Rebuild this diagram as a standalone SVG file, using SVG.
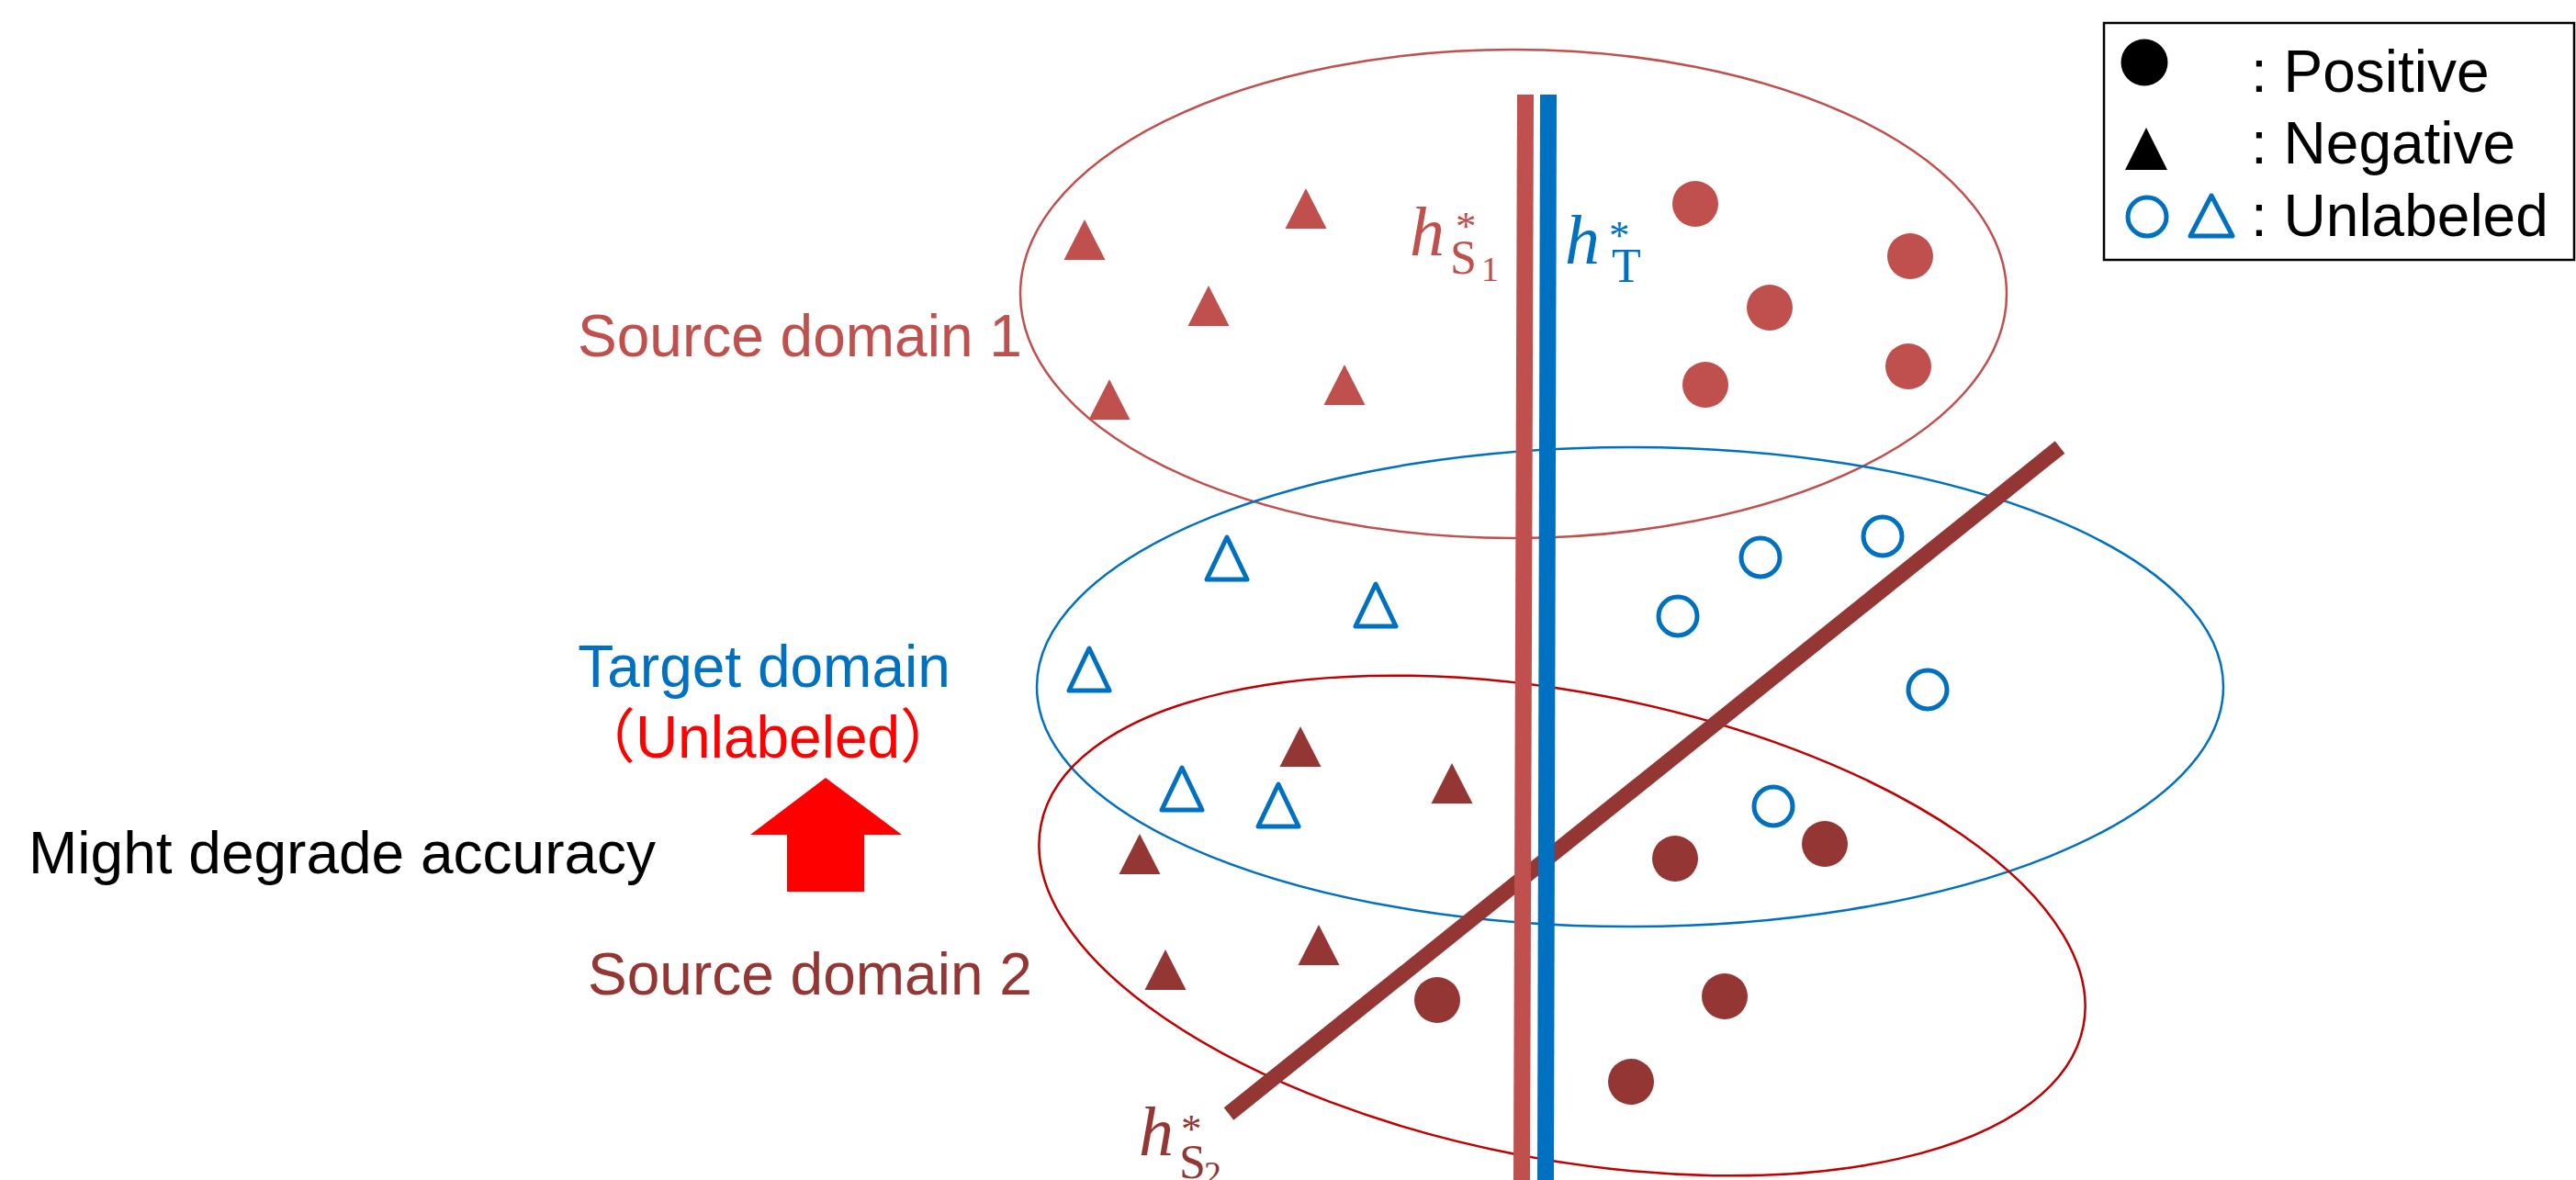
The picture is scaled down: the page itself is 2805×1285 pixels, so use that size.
<svg xmlns="http://www.w3.org/2000/svg" width="2805" height="1285" viewBox="0 0 2805 1285">
<style>
.sans{font-family:"Liberation Sans",Arial,"Noto Sans CJK JP",sans-serif}
.lbl{font-size:64px}
.math{font-family:"Liberation Serif","Times New Roman",serif}
.it{font-style:italic}
.s1{fill:#C0504D}
.s2{fill:#943634}
.tg{fill:#0070C0}
.ut{fill:none;stroke:#0070C0;stroke-width:5;stroke-linejoin:round}
</style>
<defs>
<polygon id="tri" points="0,-22 22.5,22 -22.5,22"/>
<polygon id="triO" points="0,-23 22,23 -22,23"/>
</defs>
<rect width="2805" height="1285" fill="#fff"/>

<g id="ellipses">
<ellipse id="source1-ellipse" cx="1648" cy="320" rx="537" ry="266" fill="none" stroke="#C0504D" stroke-width="2.5"/>
<ellipse id="target-ellipse" cx="1775" cy="748" rx="646" ry="261" fill="none" stroke="#0070C0" stroke-width="2.5"/>
<ellipse id="source2-ellipse" cx="1701" cy="1008" rx="578" ry="254" transform="rotate(10.9 1701 1008)" fill="none" stroke="#C00000" stroke-width="2.5"/>
</g>

<g id="source1-points" class="s1">
<use href="#tri" x="1181" y="261"/>
<use href="#tri" x="1422" y="227"/>
<use href="#tri" x="1316" y="333"/>
<use href="#tri" x="1208" y="435"/>
<use href="#tri" x="1464" y="419"/>
<circle cx="1846" cy="222" r="25"/>
<circle cx="2080" cy="279" r="25"/>
<circle cx="1927" cy="335" r="25"/>
<circle cx="2078" cy="399" r="25"/>
<circle cx="1857" cy="419" r="25"/>
</g>

<g id="target-points">
<use href="#triO" class="ut" x="1336" y="608"/>
<use href="#triO" class="ut" x="1498" y="659"/>
<use href="#triO" class="ut" x="1186" y="729"/>
<use href="#triO" class="ut" x="1287" y="859"/>
<use href="#triO" class="ut" x="1392" y="877"/>
<circle class="ut" cx="1917" cy="607" r="21"/>
<circle class="ut" cx="2050" cy="584" r="21"/>
<circle class="ut" cx="1827" cy="671" r="21"/>
<circle class="ut" cx="2099" cy="751" r="21"/>
<circle class="ut" cx="1931" cy="878" r="21"/>
</g>

<g id="source2-points" class="s2">
<use href="#tri" x="1416" y="813"/>
<use href="#tri" x="1581" y="853"/>
<use href="#tri" x="1241" y="930"/>
<use href="#tri" x="1436" y="1029"/>
<use href="#tri" x="1269" y="1056"/>
<circle cx="1824" cy="935" r="25"/>
<circle cx="1987" cy="919" r="25"/>
<circle cx="1565" cy="1089" r="25"/>
<circle cx="1878" cy="1085" r="25"/>
<circle cx="1776" cy="1178" r="25"/>
</g>

<g id="connectors">
<line id="h-s2" x1="1338" y1="1213" x2="2243" y2="487" stroke="#943634" stroke-width="17"/>
<line id="h-s1" x1="1661" y1="103" x2="1657" y2="1285" stroke="#C0504D" stroke-width="18"/>
<line id="h-t" x1="1686" y1="103" x2="1683" y2="1285" stroke="#0070C0" stroke-width="18"/>
</g>

<g id="h-labels" class="math">
<g id="label-h-s1" class="s1">
<text x="1535" y="278" class="it" font-size="76">h</text>
<text x="1585" y="261" font-size="45">*</text>
<text x="1579" y="298" font-size="52">S</text>
<text x="1613" y="306" font-size="38">1</text>
</g>
<g id="label-h-t" class="tg">
<text x="1704" y="287" class="it" font-size="76">h</text>
<text x="1752" y="271" font-size="45">*</text>
<text x="1755" y="307" font-size="52">T</text>
</g>
<g id="label-h-s2" class="s2">
<text x="1240" y="1258" class="it" font-size="76">h</text>
<text x="1286" y="1244" font-size="45">*</text>
<text x="1284" y="1283" font-size="52">S</text>
<text x="1311" y="1291" font-size="38">2</text>
</g>
</g>

<g id="domain-labels" class="sans lbl">
<text id="label-source1" x="629" y="388" class="s1">Source domain 1</text>
<text id="label-target" x="832" y="748" text-anchor="middle" class="tg">Target domain</text>
<text id="label-unlabeled" x="836" y="825" text-anchor="middle" fill="#FF0000">（Unlabeled）</text>
<text id="label-source2" x="640" y="1083" class="s2">Source domain 2</text>
<text id="label-degrade" x="31" y="951" fill="#000">Might degrade accuracy</text>
</g>

<g id="arrow">
<polygon points="899,847 982,909 941,909 941,971 857,971 857,909 817,909" fill="#FF0000"/>
</g>

<g id="legend">
<rect x="2291" y="25" width="512" height="258" fill="#fff" stroke="#000" stroke-width="2.5"/>
<circle cx="2335" cy="68" r="25.5" fill="#000"/>
<polygon points="2337,139 2360,185 2314,185" fill="#000"/>
<circle cx="2338" cy="236" r="21" fill="none" stroke="#0070C0" stroke-width="5"/>
<polygon points="2408,213 2431,257 2385,257" fill="none" stroke="#0070C0" stroke-width="5" stroke-linejoin="round"/>
<g class="sans lbl" fill="#000">
<text x="2451" y="100">: Positive</text>
<text x="2451" y="178">: Negative</text>
<text x="2451" y="257">: Unlabeled</text>
</g>
</g>
</svg>
